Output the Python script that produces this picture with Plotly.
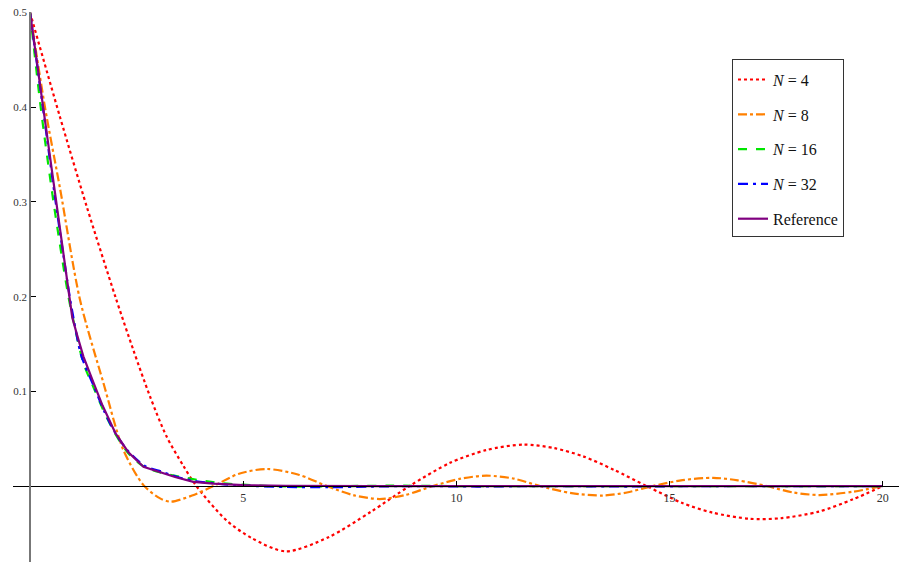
import plotly.graph_objects as go

# ---- data ----
x_n4 = [0, 0.7, 1.33, 2.0, 2.42, 2.81, 3.2, 3.6, 3.9, 4.6, 5.2, 6.0, 7.0, 8.0, 8.9, 9.85, 10.7, 11.57, 12.3, 12.97, 13.7, 14.46, 15.3, 16.0, 16.88, 17.6, 18.5, 19.3, 20.0]
y_n4 = [0.5, 0.39, 0.295, 0.2, 0.144, 0.095, 0.0525, 0.021, 0.0, -0.036, -0.055, -0.069, -0.054, -0.027, 0.0, 0.0245, 0.038, 0.0438, 0.04, 0.0314, 0.017, 0.0, -0.018, -0.028, -0.0346, -0.034, -0.027, -0.014, 0.0]

x_n8 = [0, 0.35, 0.7, 1.17, 1.72, 2.19, 2.66, 3.05, 3.3, 3.8, 4.3, 4.9, 5.55, 6.3, 6.96, 7.6, 8.2, 8.8, 9.45, 10.1, 10.7, 11.35, 11.96, 12.7, 13.44, 14.0, 14.6, 15.3, 16.02, 16.6, 17.28, 17.9, 18.52, 19.3, 20.0]
y_n8 = [0.5, 0.4, 0.315, 0.197, 0.109, 0.038, 0.001, -0.013, -0.0165, -0.01, 0.0, 0.013, 0.018, 0.012, 0.0, -0.0098, -0.0137, -0.0095, 0.0, 0.0078, 0.011, 0.0078, 0.0, -0.0075, -0.010, -0.0068, 0.0, 0.0062, 0.0087, 0.006, 0.0, -0.0068, -0.0095, -0.006, 0.0]

x_n16 = [0, 0.25, 0.55, 0.9, 1.05, 1.25, 1.5, 1.75, 2.0, 2.3, 2.65, 3.05, 3.5, 4.0, 4.5, 5.0, 5.6, 6.5, 7.5, 8.5, 10.0, 12.0, 14.0, 16.0, 18.0, 20.0]
y_n16 = [0.5, 0.4, 0.3, 0.2, 0.168, 0.13, 0.103, 0.077, 0.055, 0.035, 0.021, 0.0145, 0.01, 0.006, 0.003, 0.0015, 0.0, -0.0006, 0.0, 0.0004, 0.0, 0.0, 0.0, 0.0, 0.0, 0.0]

x_n32 = [0, 0.3, 0.6, 0.93, 1.0, 1.2, 1.5, 1.75, 2.0, 2.3, 2.7, 3.1, 3.5, 3.9, 4.3, 4.8, 5.3, 6.0, 7.0, 8.0, 9.0, 10.5, 12.0, 14.0, 16.0, 18.0, 20.0]
y_n32 = [0.5, 0.4, 0.3, 0.2, 0.182, 0.138, 0.105, 0.078, 0.056, 0.037, 0.021, 0.015, 0.009, 0.005, 0.003, 0.0008, 0.0, -0.001, -0.0012, -0.0006, 0.0, -0.0005, 0.0, -0.0005, 0.0, 0.0, 0.0]

x_ref = [0, 0.5, 0.99, 1.1, 1.25, 1.49, 1.7, 2.0, 2.3, 2.66, 3.05, 3.4, 3.83, 4.3, 5.0, 6.0, 8.0, 10.0, 12.0, 14.0, 16.0, 18.0, 20.0]
y_ref = [0.5, 0.339, 0.178, 0.16, 0.137, 0.109, 0.085, 0.056, 0.036, 0.0204, 0.0145, 0.0095, 0.0045, 0.0025, 0.001, 0.0003, 0.0, 0.0, 0.0, 0.0, 0.0, 0.0, 0.0]

series_names = ["<i>N</i> = 4", "<i>N</i> = 8", "<i>N</i> = 16", "<i>N</i> = 32", "Reference"]
x_ticks = [5, 10, 15, 20]
x_tick_labels = ["5", "10", "15", "20"]
y_ticks = [0.1, 0.2, 0.3, 0.4, 0.5]
y_tick_labels = ["0.1", "0.2", "0.3", "0.4", "0.5"]

# ---- styling ----
colors = ["#ff0000", "#ff8000", "#00e600", "#0000ff", "#800080"]
dashes = ["dot", "dashdot", "dash", "10px,5px,3px,5px", "solid"]
shapes = ["spline", "spline", "spline", "spline", "linear"]

xs = [x_n4, x_n8, x_n16, x_n32, x_ref]
ys = [y_n4, y_n8, y_n16, y_n32, y_ref]

fig = go.Figure()
for i in range(5):
    fig.add_trace(go.Scatter(
        x=xs[i], y=ys[i], mode="lines", name=series_names[i],
        legendgroup="g%d" % i,
        line=dict(color=colors[i], width=2.2, dash=dashes[i], shape=shapes[i], smoothing=0.8),
    ))

x_range = [-0.4, 20.38]
y_range = [-0.0802, 0.5006]
serif = "Liberation Serif, Times New Roman, serif"

fig.update_layout(
    width=899, height=562,
    margin=dict(l=13, r=0, t=12, b=0, autoexpand=False),
    paper_bgcolor="white", plot_bgcolor="white",
    font=dict(family=serif, color="#333333"),
    showlegend=True,
    legend=dict(
        x=(732 - 13) / 886, y=1 - (59 - 12) / 550, xanchor="left", yanchor="top",
        bordercolor="#333333", borderwidth=1, bgcolor="white",
        font=dict(family=serif, size=16, color="#111111"),
        tracegroupgap=11, itemwidth=30,
        title=dict(text=" ", font=dict(size=2)),
    ),
    xaxis=dict(
        range=x_range, showgrid=False, zeroline=False, automargin=False,
        showline=True, linecolor="#000000", linewidth=1.2,
        anchor="free", position=(0 - y_range[0]) / (y_range[1] - y_range[0]),
        tickvals=x_ticks, ticktext=x_tick_labels, ticks="inside", ticklen=5, tickcolor="#000000",
        tickfont=dict(family=serif, size=12, color="#333333"),
        ticklabeloverflow="allow",
    ),
    yaxis=dict(
        range=y_range, showgrid=False, zeroline=False, automargin=False,
        showline=True, linecolor="#777777", linewidth=1.6,
        anchor="free", position=(0 - x_range[0]) / (x_range[1] - x_range[0]),
        tickvals=y_ticks, ticktext=y_tick_labels, ticks="inside", ticklen=5, tickcolor="#000000",
        tickfont=dict(family=serif, size=11, color="#333333"),
        ticklabeloverflow="allow",
    ),
)

fig.write_html(
    "out.html",
    config={"displayModeBar": False},
    post_script="document.body.style.margin='0';document.body.style.overflow='hidden';",
)
